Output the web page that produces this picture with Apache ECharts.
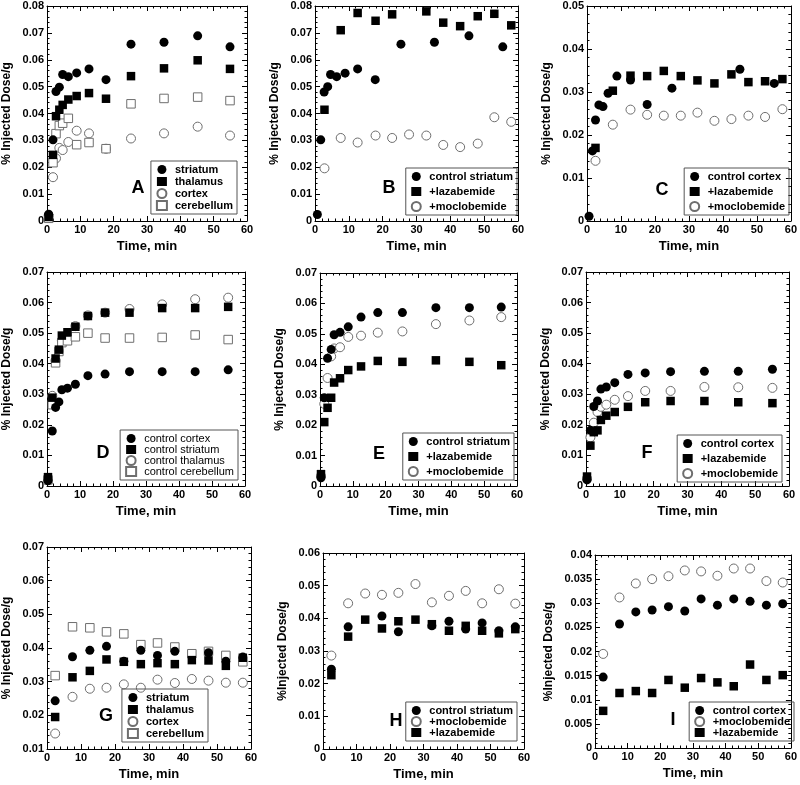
<!DOCTYPE html>
<html><head><meta charset="utf-8">
<script src="https://cdn.jsdelivr.net/npm/echarts@6/dist/echarts.min.js"></script>
<style>html,body{margin:0;padding:0;background:#fff}#c{width:800px;height:785px}</style>
</head><body><div id="c"></div><script>
// ---- tick settings ----
const xTicks = {min: 0, max: 60, interval: 10};
// ---- Panel A ----
const A_t = [0.5,1.8,2.7,3.7,4.7,6.4,8.9,12.6,17.7,25.2,35.1,45.2,54.9];
const A_striatum = [0.0025,0.0302,0.0482,0.0498,0.0545,0.0537,0.0551,0.0566,0.0526,0.0658,0.0665,0.0689,0.0648];
const A_thalamus = [0.0015,0.0246,0.039,0.0414,0.0432,0.0452,0.0465,0.0476,0.0455,0.0539,0.0568,0.0598,0.0566];
const A_cortex = [0.002,0.0163,0.0233,0.0272,0.0264,0.0294,0.0336,0.0326,0.0269,0.0307,0.0326,0.0351,0.0318];
const A_cerebellum = [0.001,0.0217,0.0325,0.0355,0.0364,0.0382,0.0284,0.0292,0.0269,0.0436,0.0456,0.0461,0.0448];
// ---- Panel B ----
const B_ctl_t = [0.7,1.7,2.7,3.75,4.6,6.4,8.9,12.6,17.8,25.4,35.3,45.5,55.5];
const B_ctl = [0.0024,0.0302,0.048,0.05,0.0545,0.0537,0.055,0.0566,0.0526,0.0658,0.0665,0.0689,0.0648];
const B_laz_t = [2.8,7.6,12.6,17.9,22.8,32.9,37.9,42.9,48.1,53,58];
const B_laz = [0.0414,0.071,0.0774,0.0745,0.0769,0.078,0.0738,0.0725,0.0762,0.0771,0.0728];
const B_moc_t = [2.8,7.6,12.6,17.9,22.8,27.8,32.9,37.9,42.9,48.1,53,58];
const B_moc = [0.0196,0.0309,0.0292,0.0318,0.0309,0.0322,0.0318,0.0283,0.0275,0.0288,0.0386,0.0369];
// ---- Panel C ----
const C_ctl_t = [0.6,1.6,2.5,3.5,4.7,6.2,8.8,12.8,17.7,25,45,55.1];
const C_ctl = [0.0011,0.0163,0.0235,0.027,0.0266,0.0297,0.0337,0.0328,0.0271,0.0309,0.0353,0.032];
const C_t = [2.5,7.6,12.8,17.7,22.6,27.6,32.5,37.5,42.5,47.5,52.4,57.5];
const C_laz = [0.017,0.0303,0.0338,0.0337,0.0349,0.0337,0.0327,0.032,0.0341,0.0323,0.0325,0.033];
const C_moc = [0.014,0.0224,0.0259,0.0247,0.0245,0.0245,0.0252,0.0233,0.0237,0.0245,0.0242,0.026];
// ---- Panel D ----
const D_t = [0.3,1.6,2.6,3.6,4.5,6.2,8.6,12.4,17.6,25,34.9,44.9,54.9];
const D_cortex = [0.0017,0.018,0.0257,0.0275,0.0315,0.032,0.0333,0.0361,0.0366,0.0374,0.0374,0.0374,0.038];
const D_striatum = [0.0029,0.0289,0.0417,0.0446,0.0492,0.0503,0.0521,0.0556,0.0567,0.0567,0.0582,0.0582,0.0586];
const D_thalamus = [0.0023,0.0295,0.041,0.0442,0.0475,0.0486,0.0523,0.0558,0.0567,0.0579,0.0594,0.0611,0.0616];
const D_cerebellum = [0.002,0.0266,0.0403,0.044,0.0469,0.0475,0.0488,0.05,0.0484,0.0484,0.0486,0.0494,0.0479];
// ---- Panel E ----
const E_t = [0.3,1.3,2.3,3.4,4.3,6.1,8.6,12.5,17.6,25.1,35.3,45.5,55.2];
const E_ctl = [0.0027,0.029,0.042,0.0449,0.0497,0.0505,0.0523,0.0555,0.057,0.057,0.0586,0.0586,0.0588];
const E_laz = [0.0039,0.021,0.0257,0.029,0.034,0.0354,0.0381,0.0393,0.0411,0.0408,0.0413,0.0408,0.0397];
const E_moc = [0.0033,0.027,0.0355,0.0426,0.0452,0.0456,0.049,0.0494,0.0504,0.0508,0.0532,0.0544,0.0555];
// ---- Panel F ----
const F_t = [0.3,1.3,2.3,3.4,4.4,6,8.5,12.4,17.5,25,35,45,55.1];
const F_ctl = [0.002,0.0182,0.026,0.0278,0.0317,0.0324,0.0338,0.0365,0.037,0.0374,0.0375,0.0375,0.0382];
const F_laz = [0.0031,0.0132,0.0176,0.0182,0.0216,0.023,0.0242,0.0259,0.0274,0.0278,0.0278,0.0274,0.0271];
const F_moc = [0.0025,0.0159,0.0207,0.0242,0.0259,0.0266,0.0282,0.0294,0.0311,0.0311,0.0324,0.0323,0.0321];
// ---- Panel G ----
const G_str_t = [2.4,7.5,12.6,17.5,22.6,27.6,32.5,37.6,47.5,52.6,57.6];
const G_striatum = [0.0243,0.0374,0.0393,0.0405,0.0361,0.0393,0.0378,0.039,0.0386,0.0361,0.0373];
const G_t = [2.4,7.5,12.6,17.5,22.6,27.6,32.5,37.6,42.6,47.5,52.6,57.6];
const G_thalamus = [0.0195,0.0313,0.0332,0.0366,0.0359,0.0352,0.0355,0.0352,0.0364,0.0363,0.0347,0.0371];
const G_cortex = [0.0146,0.0255,0.0279,0.0282,0.0292,0.0282,0.0306,0.0296,0.0308,0.0303,0.0297,0.0297];
const G_cerebellum = [0.0318,0.0463,0.046,0.0448,0.0442,0.041,0.0415,0.0403,0.0383,0.039,0.0378,0.0359];
// ---- Panel H ----
const H_ctl_t = [2.5,7.5,17.6,22.5,32.5,37.6,42.6,47.5,52.5,57.4];
const H_ctl = [0.0244,0.0374,0.0407,0.0359,0.0377,0.0391,0.0367,0.0386,0.0362,0.0374];
const H_t = [2.5,7.5,12.6,17.6,22.5,27.6,32.5,37.6,42.6,47.5,52.5,57.4];
const H_moc = [0.0286,0.0446,0.0476,0.0472,0.0478,0.0505,0.0449,0.0469,0.0484,0.0446,0.0489,0.0445];
const H_laz = [0.0226,0.0344,0.0396,0.0369,0.0391,0.0396,0.0382,0.0362,0.0377,0.0362,0.0354,0.0367];
// ---- Panel I ----
const I_t = [2.5,7.5,12.5,17.5,22.5,27.5,32.5,37.5,42.5,47.5,52.5,57.5];
const I_ctl = [0.0147,0.0257,0.0282,0.0286,0.0293,0.0284,0.0309,0.0296,0.0309,0.0304,0.0296,0.0299];
const I_moc = [0.0195,0.0312,0.0341,0.035,0.0356,0.0368,0.0366,0.0357,0.0372,0.0372,0.0346,0.0343];
const I_laz = [0.0077,0.0114,0.0118,0.0114,0.0141,0.0125,0.0145,0.0136,0.0128,0.0173,0.0141,0.0151];

// ---- rendering ----
const FONT = '"Liberation Sans", Arial, Helvetica, sans-serif';
const YN1 = '% Injected Dose/g', YN2 = '%Injected Dose/g';
const FC = 'fc', FS = 'fs', OC = 'oc', OS = 'os';
const S = (name, t, v, kind) => ({name, t, v, kind});

const panels = [
 {id:'A', box:[42,6,205,215], y:[0,0.08,0.01], yname:YN1, lg:[10,7], letter:[109,33], gap:1, fs:11, fw:'bold',
  series:[S('striatum',A_t,A_striatum,FC),S('thalamus',A_t,A_thalamus,FS),S('cortex',A_t,A_cortex,OC),S('cerebellum',A_t,A_cerebellum,OS)]},
 {id:'B', box:[315,6,203,215], y:[0,0.08,0.01], yname:YN1, lg:[1,6], letter:[129,33], gap:4, fs:11, fw:'bold',
  series:[S('control striatum',B_ctl_t,B_ctl,FC),S('+lazabemide',B_laz_t,B_laz,FS),S('+moclobemide',B_moc_t,B_moc,OC)]},
 {id:'C', box:[587,6,205,215], y:[0,0.05,0.01], yname:YN1, lg:[3,6], letter:[130,31], gap:4, fs:11, fw:'bold',
  series:[S('control cortex',C_ctl_t,C_ctl,FC),S('+lazabemide',C_t,C_laz,FS),S('+moclobemide',C_t,C_moc,OC)]},
 {id:'D', box:[42,272,203,214], y:[0,0.07,0.01], yname:YN1, lg:[7,6], letter:[142,33], gap:0, fs:11, fw:'normal',
  series:[S('control cortex',D_t,D_cortex,FC),S('control striatum',D_t,D_striatum,FS),S('control thalamus',D_t,D_thalamus,OC),S('control cerebellum',D_t,D_cerebellum,OS)]},
 {id:'E', box:[320,273,197,213], y:[0,0.07,0.01], yname:YN1, lg:[3,6], letter:[138,32], gap:4, fs:11, fw:'bold',
  series:[S('control striatum',E_t,E_ctl,FC),S('+lazabemide',E_t,E_laz,FS),S('+moclobemide',E_t,E_moc,OC)]},
 {id:'F', box:[586,272,203,214], y:[0,0.07,0.01], yname:YN1, lg:[7,4], letter:[142,33], gap:4, fs:11, fw:'bold',
  series:[S('control cortex',F_t,F_ctl,FC),S('+lazabemide',F_t,F_laz,FS),S('+moclobemide',F_t,F_moc,OC)]},
 {id:'G', box:[44,547,207,202], y:[0.01,0.07,0.01], yname:YN1, lg:[43,7], letter:[145,33], gap:1, fs:11, fw:'bold',
  series:[S('striatum',G_str_t,G_striatum,FC),S('thalamus',G_t,G_thalamus,FS),S('cortex',G_t,G_cortex,OC),S('cerebellum',G_t,G_cerebellum,OS)]},
 {id:'H', box:[323,553,201,196], y:[0,0.06,0.01], yname:YN2, lg:[7,8], letter:[128,28], gap:0, fs:11, fw:'bold',
  series:[S('control striatum',H_ctl_t,H_ctl,FC),S('+moclobemide',H_t,H_moc,OC),S('+lazabemide',H_t,H_laz,FS)]},
 {id:'I', box:[595,555,200,193], y:[0,0.04,0.005], yname:YN2, lg:[1,7], letter:[122,28], gap:0, fs:11, fw:'bold',
  series:[S('control cortex',I_t,I_ctl,FC),S('+moclobemide',I_t,I_moc,OC),S('+lazabemide',I_t,I_laz,FS)]}
];

const styleOf = k => {
  if (k === FC) return {symbol:'circle', size:9, item:{color:'#000', opacity:1}};
  if (k === FS) return {symbol:'rect', size:8.5, item:{color:'#000', opacity:1}};
  if (k === OC) return {symbol:'circle', size:9, item:{color:'#fff', borderColor:'#6e6e6e', borderWidth:1, opacity:1}};
  return {symbol:'rect', size:8.5, item:{color:'#fff', borderColor:'#6e6e6e', borderWidth:1, opacity:1}};
};

const option = {animation:false, backgroundColor:'#fff', grid:[], xAxis:[], yAxis:[], series:[], legend:[], graphic:[]};
const lineSt = {color:'#000', width:1};
const tickSt = {show:true, inside:true, length:5, lineStyle:lineSt};
const minorSt = {show:true, splitNumber:5, length:2.5, lineStyle:{color:'#000', width:1}};
const labelSt = {fontFamily:FONT, fontWeight:'bold', fontSize:11, color:'#000'};
const yFmt = v => v === 0 ? '0' : String(+v.toFixed(4));

panels.forEach((p, i) => {
  const [l, t, w, h] = p.box;
  option.grid.push({left:l, top:t, width:w, height:h, containLabel:false});
  option.xAxis.push({type:'value', gridIndex:i, position:'bottom', min:xTicks.min, max:xTicks.max, interval:xTicks.interval,
    axisLine:{onZero:false, lineStyle:lineSt}, axisTick:tickSt, minorTick:minorSt, splitLine:{show:false},
    axisLabel:Object.assign({margin:3}, labelSt),
    name:'Time, min', nameLocation:'middle', nameGap:19,
    nameTextStyle:{fontFamily:FONT, fontWeight:'bold', fontSize:13, color:'#000'}});
  option.xAxis.push({type:'value', gridIndex:i, position:'top', min:xTicks.min, max:xTicks.max, interval:xTicks.interval,
    axisLine:{onZero:false, lineStyle:lineSt}, axisTick:tickSt, minorTick:minorSt, splitLine:{show:false}, axisLabel:{show:false}});
  option.yAxis.push({type:'value', gridIndex:i, position:'left', min:p.y[0], max:p.y[1], interval:p.y[2],
    axisLine:{onZero:false, lineStyle:lineSt}, axisTick:tickSt, minorTick:minorSt, splitLine:{show:false},
    axisLabel:Object.assign({margin:3, formatter:yFmt}, labelSt),
    name:p.yname, nameLocation:'middle', nameGap:p.y[2] === 0.005 ? 40 : 34,
    nameTextStyle:{fontFamily:FONT, fontWeight:'bold', fontSize:12, color:'#000'}});
  option.yAxis.push({type:'value', gridIndex:i, position:'right', min:p.y[0], max:p.y[1], interval:p.y[2],
    axisLine:{onZero:false, lineStyle:lineSt}, axisTick:tickSt, minorTick:minorSt, splitLine:{show:false}, axisLabel:{show:false}});

  const names = [];
  const filled = [], open = [];
  p.series.forEach(s => {
    const st = styleOf(s.kind);
    const nm = p.id + '|' + s.name;
    names.push(nm);
    const ser = {type:'scatter', name:nm, xAxisIndex:2*i, yAxisIndex:2*i, symbol:st.symbol, symbolSize:st.size,
      itemStyle:st.item, emphasis:{disabled:true}, data:s.t.map((x, k) => [x, s.v[k]])};
    (s.kind === FC || s.kind === FS ? filled : open).push(ser);
  });
  open.forEach(s => option.series.push(s));
  filled.forEach(s => option.series.push(s));

  option.legend.push({orient:'vertical', right:800 - (l + w) + p.lg[0], bottom:785 - (t + h) + p.lg[1],
    data:names, formatter:n => n.split('|')[1], selectedMode:false,
    borderColor:'#555', borderWidth:1, padding:[3,4,3,5], itemGap:p.gap, itemWidth:10, itemHeight:9,
    textStyle:{fontFamily:FONT, fontWeight:p.fw, fontSize:p.fs, color:'#000', padding:[0,0,0,3]}});

  option.graphic.push({type:'text', x:l + w - p.letter[0], y:t + h - p.letter[1],
    style:{text:p.id, font:'bold 18px ' + FONT, fill:'#000', align:'center', verticalAlign:'middle'}});
});

const chart = echarts.init(document.getElementById('c'), null, {renderer:'canvas'});
chart.setOption(option);
</script></body></html>
